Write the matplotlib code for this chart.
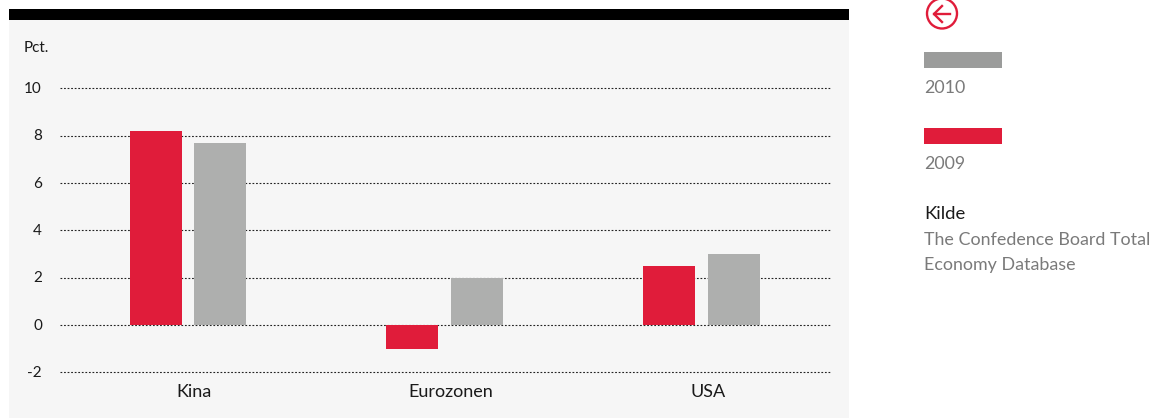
import numpy as np
import matplotlib
matplotlib.use("Agg")
import matplotlib.pyplot as plt
from matplotlib.patches import Rectangle, Circle
from matplotlib.transforms import ScaledTranslation

categories = ["Kina", "Eurozonen", "USA"]
values_2009 = [8.2, -1, 2.5]
values_2010 = [7.7, 2, 3]
y_ticks = [-2, 0, 2, 4, 6, 8, 10]

RED = "#e01c3a"
GREY = "#aeafae"
W, H = 1152, 418

plt.rcParams["font.family"] = ["Lato", "DejaVu Sans"]
plt.rcParams["axes.unicode_minus"] = False

fig = plt.figure(figsize=(W / 100, H / 100), dpi=100)


def fx(px):
    return px / W


def fy(py):
    return 1 - py / H


# panel background and black top band, kept behind the axes
fig.add_artist(Rectangle((fx(9), 0), fx(840), fy(9), transform=fig.transFigure, color="#f6f6f6", lw=0, zorder=-2))
fig.add_artist(Rectangle((fx(9), fy(19.5)), fx(840), 10.5 / H, transform=fig.transFigure, color="black", lw=0, zorder=-1))

ax = fig.add_axes([fx(60), fy(372.4), 771 / W, 284 / H])
ax.patch.set_alpha(0)
x = np.arange(len(categories))
ax.set_axisbelow(True)
ax.yaxis.grid(True, color="#222222", linestyle=(0, (1.6, 1.6)), linewidth=0.8)
ax.bar(x - 0.1265, values_2009, width=0.2025, color=RED)
ax.bar(x + 0.1246, values_2010, width=0.2025, color=GREY)
ax.set_xlim(-0.4985, 2.504)
ax.set_ylim(-2, 10)

for s in ax.spines.values():
    s.set_visible(False)
ax.set_yticks(y_ticks)
ax.set_xticks(x, categories)
ax.tick_params(length=0)
ax.tick_params(axis="y", labelsize=11, pad=13, labelcolor="#1a1a1a")
ax.tick_params(axis="x", labelsize=13, pad=8, labelcolor="#1a1a1a")
for line in ax.get_ygridlines():
    line.set_clip_on(False)

# the reference labels sit a little right of the groups and above the grid lines
for label in ax.get_xticklabels():
    label.set_transform(label.get_transform() + ScaledTranslation(6 / 100, 0, fig.dpi_scale_trans))
for label in ax.get_yticklabels():
    label.set_transform(label.get_transform() + ScaledTranslation(0, 1 / 100, fig.dpi_scale_trans))

fig.text(fx(24), fy(48), "Pct.", fontsize=11, color="#1a1a1a", va="center")

# back arrow icon
fig.add_artist(Circle((942, H - 13.5), 15, transform=None, fill=False, ec=RED, lw=1.7))
fig.add_artist(plt.Line2D([fx(934), fx(950)], [fy(14), fy(14)], color=RED, lw=1.7))
fig.add_artist(plt.Line2D([fx(942), fx(934), fx(942)], [fy(6), fy(14), fy(22)], color=RED, lw=1.7))

# side legend
fig.add_artist(Rectangle((fx(924), fy(68)), 78 / W, 16 / H, transform=fig.transFigure, color="#9b9c9b", lw=0))
fig.add_artist(Rectangle((fx(924), fy(144)), 78 / W, 16 / H, transform=fig.transFigure, color=RED, lw=0))
side = dict(fontsize=12.9, color="#7a7a7a", va="center")
fig.text(fx(924), fy(88), "2010", **side)
fig.text(fx(924), fy(164), "2009", **side)
fig.text(fx(924), fy(214), "Kilde", fontsize=13.3, color="#1a1a1a", va="center")
fig.text(fx(924), fy(240), "The Confedence Board Total", **side)
fig.text(fx(924), fy(265), "Economy Database", **side)

fig.savefig("out.png", dpi=100)
